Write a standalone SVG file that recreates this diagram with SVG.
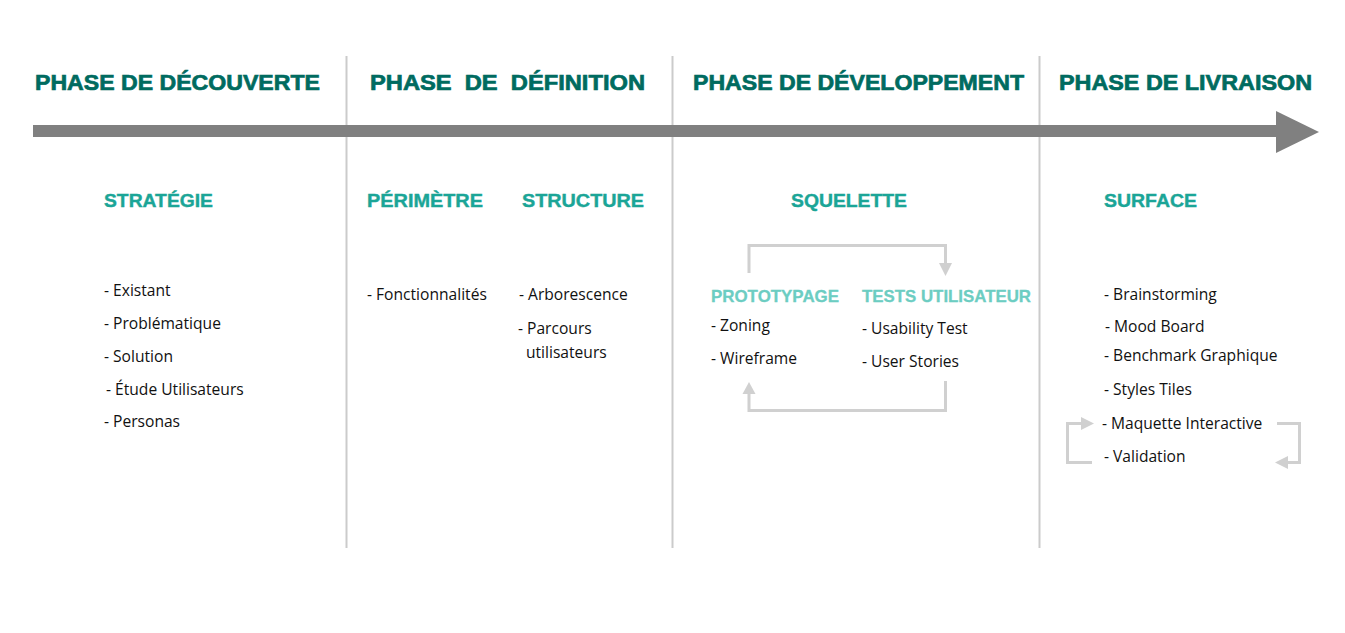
<svg xmlns="http://www.w3.org/2000/svg" width="1345" height="633" viewBox="0 0 1345 633">
  <style>
    .phase { font-family: "Liberation Sans", Arial, sans-serif; font-weight: 700; font-size: 22.5px; fill: #006b60; stroke: #006b60; stroke-width: 0.7; }
    .sub { font-family: "Liberation Sans", Arial, sans-serif; font-weight: 700; font-size: 19px; fill: #1ba597; stroke: #1ba597; stroke-width: 0.4; }
    .sub2 { font-family: "Liberation Sans", Arial, sans-serif; font-weight: 700; font-size: 16.5px; fill: #6ccdc2; stroke: #6ccdc2; stroke-width: 0.3; }
    .item { font-family: "Open Sans", sans-serif; font-size: 15.6px; fill: #111; }
    .divider { stroke: #cbcbcb; stroke-width: 2; }
    .loop { fill: none; stroke: #d0d0d0; stroke-width: 3; }
    .head { fill: #d0d0d0; }
  </style>
  <rect width="1345" height="633" fill="#fff"/>

  <!-- phase dividers -->
  <g id="dividers">
    <line class="divider" x1="346.5" y1="56" x2="346.5" y2="548"/>
    <line class="divider" x1="672.5" y1="56" x2="672.5" y2="548"/>
    <line class="divider" x1="1039.5" y1="56" x2="1039.5" y2="548"/>
  </g>

  <!-- timeline arrow -->
  <g id="timeline">
    <rect x="33" y="125" width="1246" height="12" fill="#808080"/>
    <polygon points="1276,111 1319,132 1276,153" fill="#808080"/>
  </g>

  <!-- phase headings -->
  <g id="phase-decouverte"><text class="phase" x="35" y="90" textLength="285" lengthAdjust="spacingAndGlyphs">PHASE DE DÉCOUVERTE</text></g>
  <g id="phase-definition"><text class="phase" x="370" y="90" textLength="275" lengthAdjust="spacingAndGlyphs" xml:space="preserve">PHASE  DE  DÉFINITION</text></g>
  <g id="phase-developpement"><text class="phase" x="693" y="90" textLength="331" lengthAdjust="spacingAndGlyphs">PHASE DE DÉVELOPPEMENT</text></g>
  <g id="phase-livraison"><text class="phase" x="1059" y="90" textLength="253" lengthAdjust="spacingAndGlyphs">PHASE DE LIVRAISON</text></g>

  <!-- strategy -->
  <g id="strategie">
    <text class="sub" x="104" y="207" textLength="109" lengthAdjust="spacingAndGlyphs">STRATÉGIE</text>
    <text class="item" x="104" y="296">- Existant</text>
    <text class="item" x="104" y="329">- Problématique</text>
    <text class="item" x="104" y="362">- Solution</text>
    <text class="item" x="106" y="395">- Étude Utilisateurs</text>
    <text class="item" x="104" y="427">- Personas</text>
  </g>

  <!-- scope -->
  <g id="perimetre">
    <text class="sub" x="367" y="207" textLength="116" lengthAdjust="spacingAndGlyphs">PÉRIMÈTRE</text>
    <text class="item" x="367" y="300">- Fonctionnalités</text>
  </g>

  <!-- structure -->
  <g id="structure">
    <text class="sub" x="522" y="207" textLength="122" lengthAdjust="spacingAndGlyphs">STRUCTURE</text>
    <text class="item" x="519" y="300">- Arborescence</text>
    <text class="item" x="518" y="334">- Parcours</text>
    <text class="item" x="526" y="358">utilisateurs</text>
  </g>

  <!-- skeleton -->
  <g id="squelette">
    <text class="sub" x="791" y="207" textLength="116" lengthAdjust="spacingAndGlyphs">SQUELETTE</text>
  </g>
  <g id="prototypage">
    <text class="sub2" x="711" y="302" textLength="128" lengthAdjust="spacingAndGlyphs">PROTOTYPAGE</text>
    <text class="item" x="711" y="331">- Zoning</text>
    <text class="item" x="711" y="364">- Wireframe</text>
  </g>
  <g id="tests-utilisateur">
    <text class="sub2" x="862" y="302" textLength="169" lengthAdjust="spacingAndGlyphs">TESTS UTILISATEUR</text>
    <text class="item" x="862" y="334">- Usability Test</text>
    <text class="item" x="862" y="367">- User Stories</text>
  </g>

  <!-- surface -->
  <g id="surface">
    <text class="sub" x="1104" y="207" textLength="93" lengthAdjust="spacingAndGlyphs">SURFACE</text>
    <text class="item" x="1104" y="300">- Brainstorming</text>
    <text class="item" x="1105" y="332">- Mood Board</text>
    <text class="item" x="1104" y="361">- Benchmark Graphique</text>
    <text class="item" x="1104" y="395">- Styles Tiles</text>
    <text class="item" x="1102" y="429">- Maquette Interactive</text>
    <text class="item" x="1104" y="462">- Validation</text>
  </g>

  <!-- iteration loops -->
  <g id="connectors">
    <polyline class="loop" points="749,273 749,245.5 945.5,245.5 945.5,264"/>
    <polygon class="head" points="939,263 952,263 945.5,276"/>
    <polyline class="loop" points="945.5,381 945.5,410.5 749,410.5 749,393"/>
    <polygon class="head" points="742.5,394 755.5,394 749,382"/>

    <polyline class="loop" points="1092,462.5 1067.5,462.5 1067.5,423.5 1082,423.5"/>
    <polygon class="head" points="1081,417 1094,423.5 1081,430"/>
    <polyline class="loop" points="1277,423.5 1299.5,423.5 1299.5,462.5 1287,462.5"/>
    <polygon class="head" points="1288,456 1275,462.5 1288,469"/>
  </g>
</svg>
